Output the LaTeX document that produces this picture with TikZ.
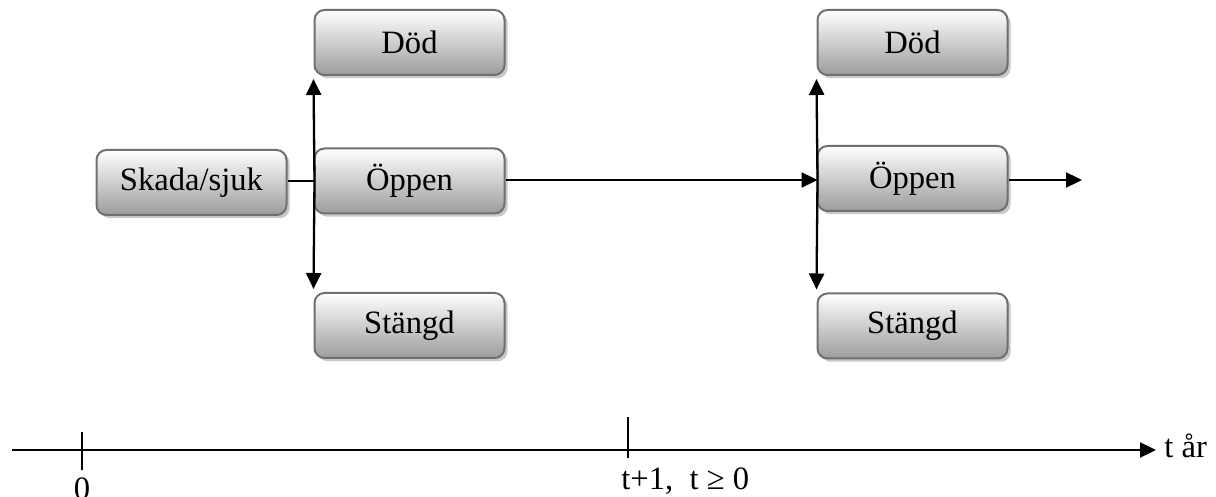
\documentclass[tikz,border=0pt]{standalone}
\usepackage{fontspec}
\setmainfont{Liberation Serif}
\usetikzlibrary{shadows,arrows.meta}
\definecolor{boxborder}{HTML}{707070}
\definecolor{boxbottom}{HTML}{9C9C9C}
\definecolor{shadowgray}{HTML}{C8C8C8}
\tikzset{
  statebox/.style={rectangle, rounded corners=5pt, draw=boxborder, line width=1pt,
    top color=white, bottom color=boxbottom,
    minimum width=95pt, minimum height=32.5pt, inner sep=0pt,
    font=\fontsize{16.3}{19}\selectfont,
    drop shadow={shadow xshift=1.6pt, shadow yshift=-1.6pt, fill=shadowgray, opacity=1}},
  conn/.style={line width=1.15pt, draw=black},
  arr/.style={conn, -{Triangle[length=8pt,width=7.5pt]}},
  lbl/.style={inner sep=0pt, font=\fontsize{16.3}{19}\selectfont}
}
\begin{document}
\begin{tikzpicture}[x=0.5pt,y=-0.5pt]
\useasboundingbox (0,0) rectangle (1216,497);
% boxes
\node[statebox] (skada) at (191.5,182.5) {Skada/sjuk};
\node[statebox] (dod1) at (409.5,42.5) {Död};
\node[statebox] (oppen1) at (409.5,181) {Öppen};
\node[statebox] (stangd1) at (409.5,325.5) {Stängd};
\node[statebox] (dod2) at (912.5,42.5) {Död};
\node[statebox] (oppen2) at (912.5,178.5) {Öppen};
\node[statebox] (stangd2) at (912.5,326) {Stängd};
% branch points
\coordinate (v1) at (314.5,181);
\coordinate (v2) at (817.5,180);
\coordinate (out) at (1082,180);
% connectors
\draw[conn] (skada.east |- v1) -- (v1);
\draw[arr] (v1) -- ([yshift=-1.5pt]dod1.south west);
\draw[arr] (v1) -- ([yshift=1.5pt]stangd1.north west);
\draw[arr] (oppen1.east |- v2) -- (v2);
\draw[arr] (v2) -- ([yshift=-1.5pt]dod2.south west);
\draw[arr] (v2) -- ([yshift=1.5pt]stangd2.north west);
\draw[arr] (oppen2.east |- out) -- (out);
% time axis
\coordinate (axs) at (12,450);
\coordinate (axe) at (1156,450);
\draw[arr] (axs) -- (axe);
\coordinate (t0a) at (82,432);
\coordinate (t0b) at (82,470);
\draw[conn] (t0a) -- (t0b);
\coordinate (t1a) at (628,417);
\coordinate (t1b) at (628,458);
\draw[conn] (t1a) -- (t1b);
\node[lbl, anchor=north] (l0) at (82,477) {0};
\node[lbl, anchor=base west] (l1) at (621,489) {t+1,\ \ t ≥ 0};
\node[lbl, anchor=base west] (l2) at (1164,457) {t\ år};
\end{tikzpicture}
\end{document}
